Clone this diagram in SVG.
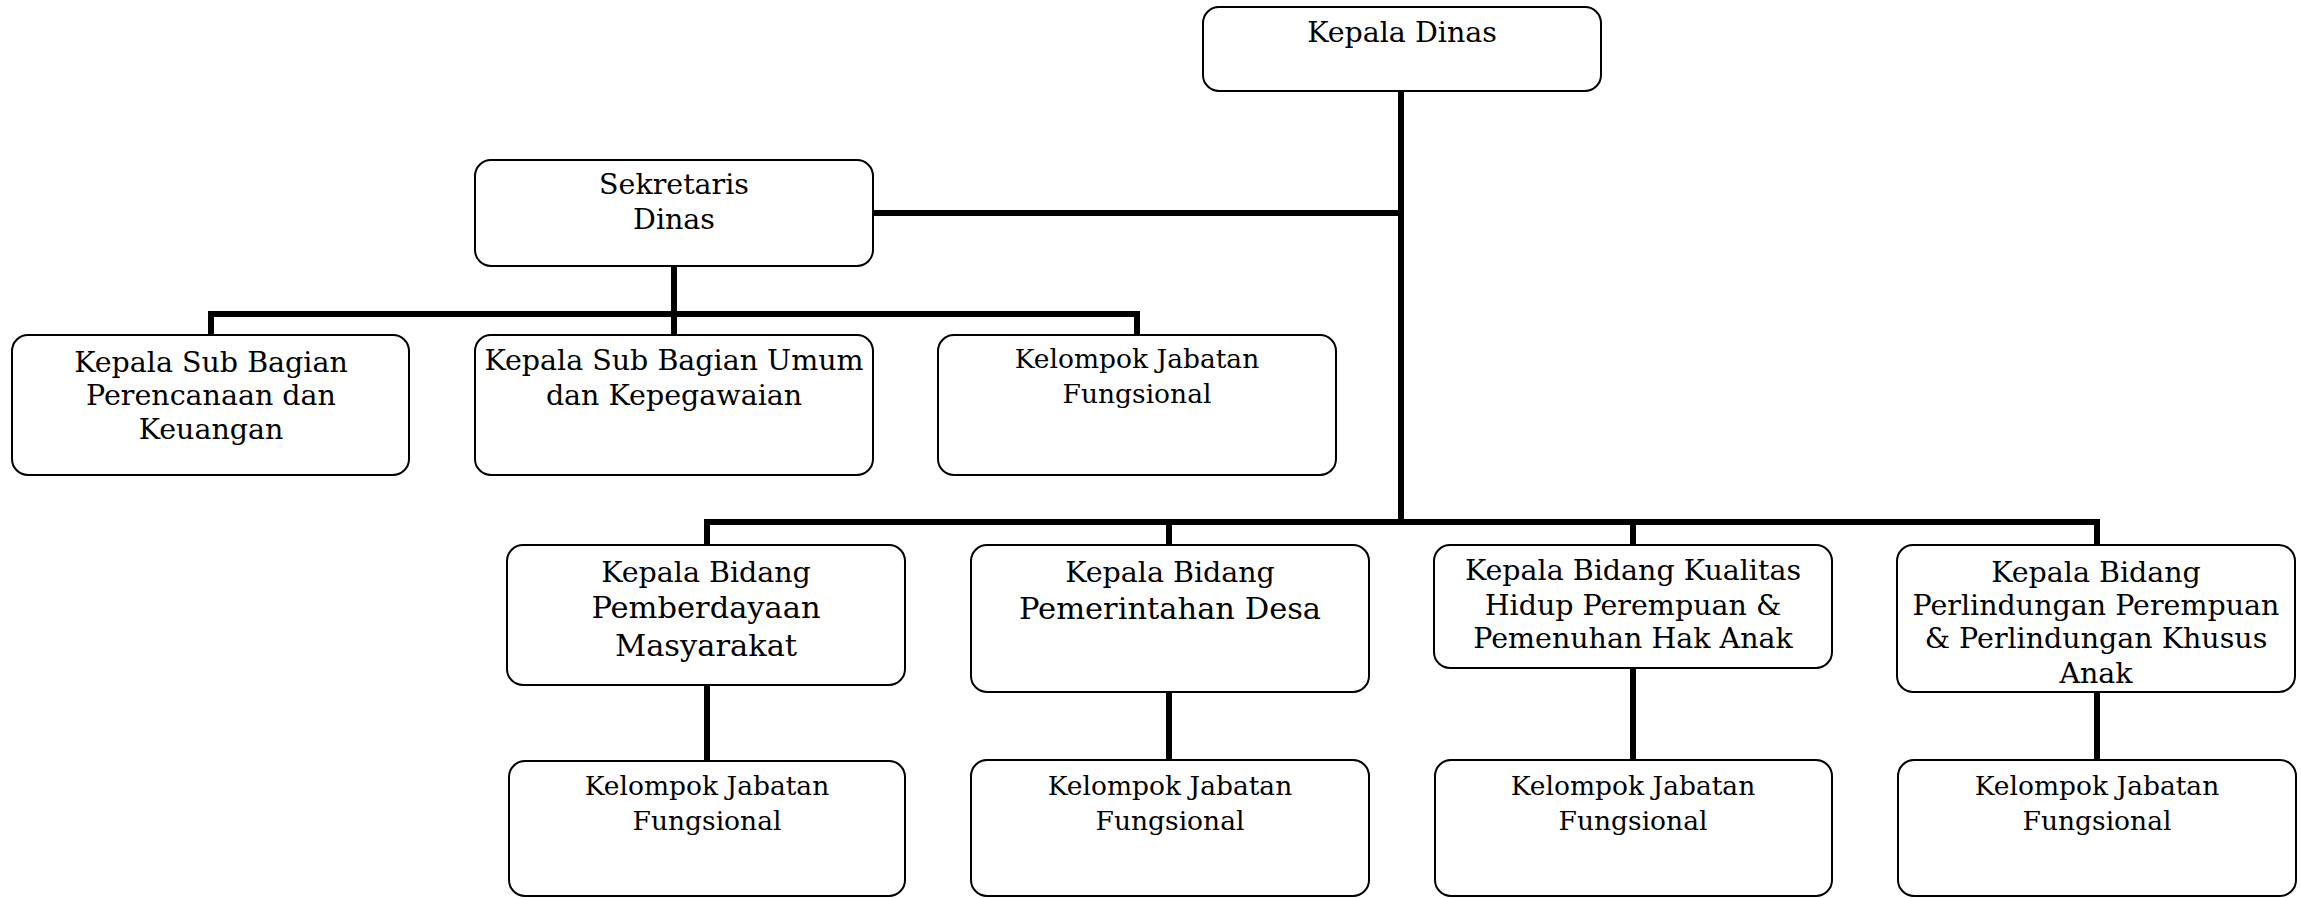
<svg xmlns="http://www.w3.org/2000/svg" width="2301" height="898" viewBox="0 0 2301 898">
  <style>
    .box { fill: #ffffff; stroke: #000000; stroke-width: 2; }
    .link { fill: none; stroke: #000000; stroke-width: 6; stroke-linecap: butt; stroke-linejoin: miter; }
    text { font-family: "DejaVu Serif", "Liberation Serif", serif; fill: #000000; text-anchor: middle; font-size: 28.5px; }
    .big { font-size: 30.5px; }
    .small { font-size: 26.5px; }
  </style>
  <rect width="2301" height="898" fill="#ffffff"/>

  <!-- connectors -->
  <g id="connectors">
    <!-- trunk from the head down to the division bar -->
    <path class="link" d="M1401 91 V525"/>
    <!-- branch to the secretary -->
    <path class="link" d="M873 213 H1401"/>
    <!-- secretary to its sub-units -->
    <path class="link" d="M674 266 V314 M211 335 V314 H1137 V335 M674 314 V335"/>
    <!-- division bar -->
    <path class="link" d="M707 545 V522 H2097 V545 M1169 522 V545 M1633 522 V545"/>
    <!-- divisions to their functional groups -->
    <path class="link" d="M707 685 V762"/>
    <path class="link" d="M1169 692 V760"/>
    <path class="link" d="M1633 668 V760"/>
    <path class="link" d="M2097 692 V760"/>
  </g>

  <g id="kepala-dinas">
    <rect class="box" x="1203" y="7" width="398" height="84" rx="16"/>
    <text x="1402" y="42">Kepala Dinas</text>
  </g>

  <g id="sekretaris">
    <rect class="box" x="475" y="160" width="398" height="106" rx="16"/>
    <text x="674" y="194">Sekretaris</text>
    <text x="674" y="229">Dinas</text>
  </g>

  <g id="subbag-perencanaan">
    <rect class="box" x="12" y="335" width="397" height="140" rx="16"/>
    <text x="211" y="372">Kepala Sub Bagian</text>
    <text x="211" y="405">Perencanaan dan</text>
    <text x="211" y="439">Keuangan</text>
  </g>

  <g id="subbag-umum">
    <rect class="box" x="475" y="335" width="398" height="140" rx="16"/>
    <text x="674" y="370">Kepala Sub Bagian Umum</text>
    <text x="674" y="405">dan Kepegawaian</text>
  </g>

  <g id="jf-sekretariat">
    <rect class="box" x="938" y="335" width="398" height="140" rx="16"/>
    <text class="small" x="1137" y="368">Kelompok Jabatan</text>
    <text class="small" x="1137" y="403">Fungsional</text>
  </g>

  <g id="bidang-pemberdayaan">
    <rect class="box" x="507" y="545" width="398" height="140" rx="16"/>
    <text x="706" y="582">Kepala Bidang</text>
    <text class="big" x="706" y="618">Pemberdayaan</text>
    <text class="big" x="706" y="656">Masyarakat</text>
  </g>

  <g id="bidang-pemdes">
    <rect class="box" x="971" y="545" width="398" height="147" rx="16"/>
    <text x="1170" y="582">Kepala Bidang</text>
    <text class="big" x="1170" y="619">Pemerintahan Desa</text>
  </g>

  <g id="bidang-kualitas">
    <rect class="box" x="1434" y="545" width="398" height="123" rx="16"/>
    <text x="1633" y="580">Kepala Bidang Kualitas</text>
    <text x="1633" y="615">Hidup Perempuan &amp;</text>
    <text x="1633" y="648">Pemenuhan Hak Anak</text>
  </g>

  <g id="bidang-perlindungan">
    <rect class="box" x="1897" y="545" width="398" height="147" rx="16"/>
    <text x="2096" y="582">Kepala Bidang</text>
    <text x="2096" y="615">Perlindungan Perempuan</text>
    <text x="2096" y="648">&amp; Perlindungan Khusus</text>
    <text x="2096" y="683">Anak</text>
  </g>

  <g id="jf-pemberdayaan">
    <rect class="box" x="509" y="761" width="396" height="135" rx="16"/>
    <text class="small" x="707" y="795">Kelompok Jabatan</text>
    <text class="small" x="707" y="830">Fungsional</text>
  </g>

  <g id="jf-pemdes">
    <rect class="box" x="971" y="760" width="398" height="136" rx="16"/>
    <text class="small" x="1170" y="795">Kelompok Jabatan</text>
    <text class="small" x="1170" y="830">Fungsional</text>
  </g>

  <g id="jf-kualitas">
    <rect class="box" x="1435" y="760" width="397" height="136" rx="16"/>
    <text class="small" x="1633" y="795">Kelompok Jabatan</text>
    <text class="small" x="1633" y="830">Fungsional</text>
  </g>

  <g id="jf-perlindungan">
    <rect class="box" x="1898" y="760" width="398" height="136" rx="16"/>
    <text class="small" x="2097" y="795">Kelompok Jabatan</text>
    <text class="small" x="2097" y="830">Fungsional</text>
  </g>
</svg>
